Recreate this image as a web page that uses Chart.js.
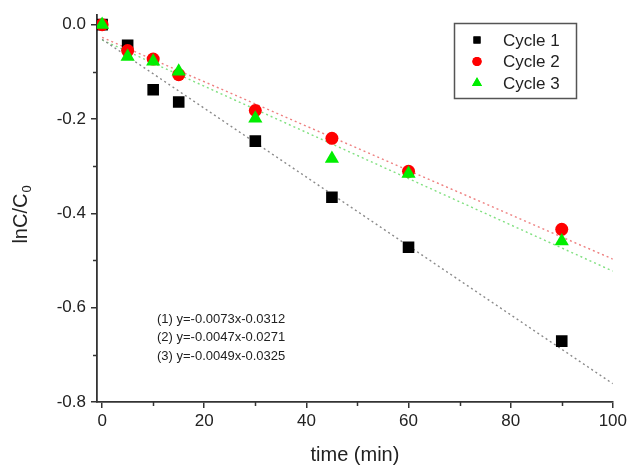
<!DOCTYPE html>
<html><head><meta charset="utf-8">
<script src="https://cdn.jsdelivr.net/npm/chart.js@4/dist/chart.umd.min.js"></script>
<style>html,body{margin:0;padding:0;background:#fff;}canvas{display:block;}</style>
</head><body>
<canvas id="c" width="630" height="469"></canvas>
<script>
// ---- data ----
const timeMin = [0, 5, 10, 15, 30, 45, 60, 90];
const cycle1 = [0, -0.044, -0.138, -0.164, -0.247, -0.366, -0.472, -0.671];
const cycle2 = [0, -0.055, -0.073, -0.106, -0.182, -0.241, -0.311, -0.434];
const cycle3 = [0, -0.068, -0.078, -0.099, -0.199, -0.284, -0.316, -0.459];
const seriesLabels = ['Cycle 1', 'Cycle 2', 'Cycle 3'];
const fitSlopes = [-0.0073, -0.0047, -0.0049];
const fitIntercepts = [-0.0312, -0.0271, -0.0325];
const fitX = [0, 100];
const equationLabels = ['(1) y=-0.0073x-0.0312', '(2) y=-0.0047x-0.0271', '(3) y=-0.0049x-0.0325'];
const xMajorTicks = [0, 20, 40, 60, 80, 100];
const xMinorTicks = [10, 30, 50, 70, 90];
const yMajorTicks = [0, -0.2, -0.4, -0.6, -0.8];
const yMajorLabels = ['0.0', '-0.2', '-0.4', '-0.6', '-0.8'];
const yMinorTicks = [-0.1, -0.3, -0.5, -0.7];
const xTitle = 'time (min)';

// ---- styles ----
const markerColors = ['#000000', '#ff0000', '#00ee00'];
const markerStyles = ['rect', 'circle', 'triangle'];
const markerRadii = [8.2, 6.5, 8.2];
const fitColors = ['#8a8a8a', '#ee8080', '#80e080'];
const FONT = "'Liberation Sans', Arial, sans-serif";
const AX = '#333333';

const pts = s => timeMin.map((t, i) => ({x: t, y: s[i]}));
const series = [cycle1, cycle2, cycle3];

const datasets = [];
series.forEach((s, i) => {
  datasets.push({
    type: 'scatter', label: seriesLabels[i], data: pts(s),
    pointStyle: markerStyles[i], pointRadius: markerRadii[i], pointHoverRadius: markerRadii[i],
    backgroundColor: markerColors[i], borderColor: markerColors[i], borderWidth: 0,
    order: 3 - i
  });
});
series.forEach((s, i) => {
  datasets.push({
    type: 'line', label: 'fit' + (i + 1),
    data: fitX.map(x => ({x: x, y: fitSlopes[i] * x + fitIntercepts[i]})),
    borderColor: fitColors[i], borderWidth: 1.4, borderDash: [2, 3],
    pointRadius: 0, fill: false, order: 10
  });
});

const overlay = {
  id: 'overlay',
  afterDraw(chart) {
    const ctx = chart.ctx;
    const xs = chart.scales.x, ys = chart.scales.y;
    const area = chart.chartArea;
    ctx.save();
    // minor ticks
    ctx.strokeStyle = AX; ctx.lineWidth = 1.5;
    xMinorTicks.forEach(v => {
      const px = Math.round(xs.getPixelForValue(v)) + 0.5;
      ctx.beginPath(); ctx.moveTo(px, area.bottom); ctx.lineTo(px, area.bottom + 4); ctx.stroke();
    });
    yMinorTicks.forEach(v => {
      const py = Math.round(ys.getPixelForValue(v)) + 0.5;
      ctx.beginPath(); ctx.moveTo(area.left, py); ctx.lineTo(area.left - 4, py); ctx.stroke();
    });
    // legend
    const lx = 454.5, ly = 23.5, lw = 122, lh = 75;
    ctx.strokeStyle = '#555'; ctx.lineWidth = 1.5;
    ctx.strokeRect(lx, ly, lw, lh);
    const rows = [40, 61.5, 83];
    ctx.font = '17px ' + FONT; ctx.textBaseline = 'middle'; ctx.textAlign = 'left';
    const legR = [5, 4.6, 5.8];
    rows.forEach((ry, i) => {
      ctx.fillStyle = markerColors[i];
      Chart.helpers.drawPoint(ctx, {pointStyle: markerStyles[i], radius: legR[i], borderWidth: 0}, 477, ry);
      ctx.fill();
      ctx.fillStyle = '#222';
      ctx.fillText(seriesLabels[i], 503, ry + 1);
    });
    // equations
    ctx.font = '13px ' + FONT; ctx.fillStyle = '#222';
    equationLabels.forEach((t, i) => ctx.fillText(t, 157, 319 + i * 18.5));
    // y title with subscript
    ctx.translate(27, 215);
    ctx.rotate(-Math.PI / 2);
    ctx.textBaseline = 'alphabetic'; ctx.textAlign = 'left';
    const main = 'lnC/C';
    ctx.font = '20px ' + FONT;
    const wMain = ctx.measureText(main).width;
    ctx.font = '13px ' + FONT;
    const wSub = ctx.measureText('0').width;
    const total = wMain + wSub;
    ctx.font = '20px ' + FONT;
    ctx.fillText(main, -total / 2, 0);
    ctx.font = '13px ' + FONT;
    ctx.fillText('0', -total / 2 + wMain + 1, 4);
    ctx.restore();
  }
};

new Chart(document.getElementById('c'), {
  data: {datasets},
  options: {
    responsive: false, animation: false,
    layout: {padding: {top: 15, right: 16, left: 0, bottom: 0}},
    plugins: {legend: {display: false}, tooltip: {enabled: false}},
    scales: {
      x: {
        type: 'linear', min: -1, max: 100,
        afterBuildTicks: s => { s.ticks = xMajorTicks.map(v => ({value: v})); },
        afterFit: s => { s.height = 67; },
        border: {color: AX, width: 1.8},
        grid: {drawOnChartArea: false, drawTicks: true, tickLength: 6, color: AX, lineWidth: 1.5},
        ticks: {color: '#222', font: {family: FONT, size: 17}, padding: 3, maxRotation: 0,
          callback: v => String(v)},
        title: {display: true, text: xTitle, color: '#222', font: {family: FONT, size: 20}, padding: {top: 4, bottom: 2}}
      },
      y: {
        type: 'linear', min: -0.8, max: 0.02,
        afterBuildTicks: s => { s.ticks = yMajorTicks.map(v => ({value: v})); },
        afterFit: s => { s.width = 97; },
        border: {color: AX, width: 1.8},
        grid: {drawOnChartArea: false, drawTicks: true, tickLength: 6, color: AX, lineWidth: 1.5},
        ticks: {color: '#222', font: {family: FONT, size: 17}, padding: 5,
          callback: v => { const i = yMajorTicks.findIndex(t => Math.abs(t - v) < 1e-9); return i >= 0 ? yMajorLabels[i] : ''; }}
      }
    }
  },
  plugins: [overlay]
});
</script>
</body></html>
